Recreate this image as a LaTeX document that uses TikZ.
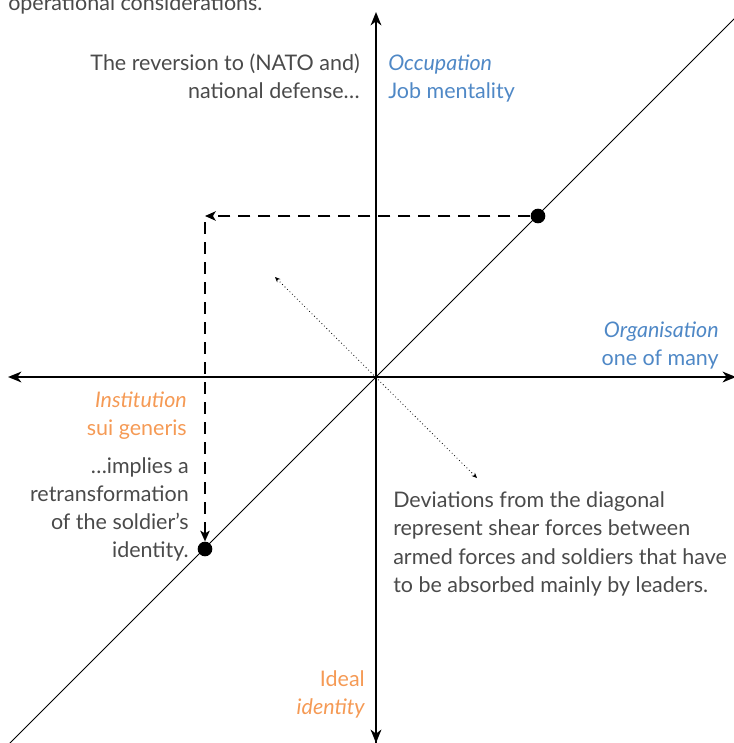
\documentclass[tikz,border=0pt]{standalone}
\usepackage{fontspec}
\setmainfont{Lato}
\usetikzlibrary{arrows.meta}
\definecolor{txt}{HTML}{4A4A4A}
\definecolor{occ}{HTML}{4F88C6}
\definecolor{ins}{HTML}{F59A55}
\begin{document}
\begin{tikzpicture}[x=0.75pt,y=-0.75pt,
  lbl/.style={inner sep=0pt,font=\fontsize{16.1}{21}\selectfont},
  gray/.style={lbl,text=txt},
  blue/.style={lbl,text=occ},
  orng/.style={lbl,text=ins},
  axis/.style={line width=1.6pt,-{Stealth[length=10pt,width=8pt,inset=3pt]}},
  diag/.style={line width=0.6pt},
  dashedarrow/.style={line width=1.3pt,dash pattern=on 9pt off 6pt,-{Stealth[length=8pt,width=7pt,inset=2pt]}},
  dotarrow/.style={line width=0.6pt,dotted,{Stealth[length=4pt,width=3.5pt]}-{Stealth[length=4pt,width=3.5pt]}},
  pt/.style={circle,fill=black,inner sep=0pt,minimum size=11pt}]
\useasboundingbox (0,0) rectangle (734,743);
\clip (0,0) rectangle (734,743);
% axes
\coordinate (O) at (376,377);
\coordinate (top) at (376,12);
\coordinate (bot) at (376,743);
\coordinate (lft) at (8,377);
\coordinate (rgt) at (736,377);
\coordinate (dl) at (8,745);
\coordinate (dr) at (736,17);
\draw[diag] (dl) -- (dr);
\draw[axis] (bot) -- (top);
\draw[axis] (O) -- (bot);
\draw[axis] (rgt) -- (lft);
\draw[axis] (O) -- (rgt);
% points
\node[pt] (p1) at (538,216) {};
\node[pt] (p2) at (205,549) {};
\coordinate (c1) at (205,216);
\coordinate (c2) at (205,222);
\draw[dashedarrow] (p1) -- (c1);
\draw[dashedarrow] (c2) -- (p2.north);
% dotted double arrow
\coordinate (d1) at (275,277);
\coordinate (d2) at (477,478);
\draw[dotarrow] (d1) -- (d2);
% texts
\node[gray,anchor=base west] (t0) at (8,10) {operational considerations.};
\node[gray,anchor=base east] (t1) at (360,70) {The reversion to (NATO and)};
\node[gray,anchor=base east] (t2) at (360,98) {national defense…};
\node[blue,anchor=base west] (b1) at (388,70) {\itshape Occupation};
\node[blue,anchor=base west] (b2) at (388,98) {Job mentality};
\node[blue,anchor=base east] (b3) at (719,337) {\itshape Organisation};
\node[blue,anchor=base east] (b4) at (719,365) {one of many};
\node[orng,anchor=base east] (o1) at (187,407) {\itshape Institution};
\node[orng,anchor=base east] (o2) at (187,435) {sui generis};
\node[gray,anchor=base east] (g1) at (189,473) {…implies a};
\node[gray,anchor=base east] (g2) at (189,501) {retransformation};
\node[gray,anchor=base east] (g3) at (189,529) {of the soldier’s};
\node[gray,anchor=base east] (g4) at (189,557) {identity.};
\node[gray,anchor=base west] (r1) at (393,507) {Deviations from the diagonal};
\node[gray,anchor=base west] (r2) at (393,535) {represent shear forces between};
\node[gray,anchor=base west] (r3) at (393,564) {armed forces and soldiers that have};
\node[gray,anchor=base west] (r4) at (393,592) {to be absorbed mainly by leaders.};
\node[orng,anchor=base east] (o3) at (365,686) {Ideal};
\node[orng,anchor=base east] (o4) at (365,714) {\itshape identity};
\end{tikzpicture}
\end{document}
